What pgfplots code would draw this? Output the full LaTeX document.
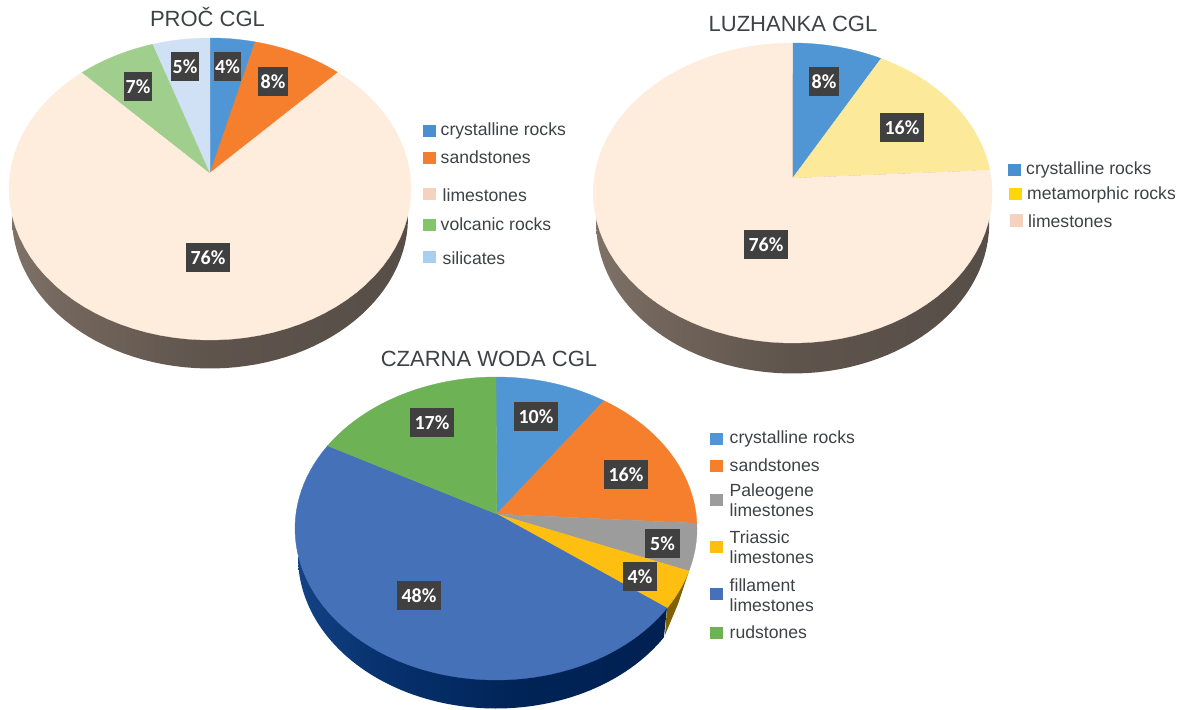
\documentclass[border=0pt]{standalone}
\usepackage{fontspec}
\usepackage{pgfplots}
\pgfplotsset{compat=1.18}
\setmainfont{Liberation Sans}
\newfontfamily\carlito{Carlito}
\definecolor{txt}{HTML}{3E4145}
\definecolor{boxc}{HTML}{404040}
\definecolor{peach}{HTML}{FEECDC}
\definecolor{cblue}{HTML}{5096D5}
\definecolor{corange}{HTML}{F57F2D}
\definecolor{lgreen}{HTML}{A0CF8D}
\definecolor{lblue}{HTML}{D0E1F6}
\definecolor{lyellow}{HTML}{FDE99A}
\definecolor{cgrey}{HTML}{9C9C9C}
\definecolor{cgold}{HTML}{FFBF10}
\definecolor{cdeep}{HTML}{4571B8}
\definecolor{cgreen}{HTML}{6DB254}
\definecolor{wgold}{HTML}{7F6005}
\definecolor{l1}{HTML}{4A8FD0}
\definecolor{l2}{HTML}{F47E30}
\definecolor{l3}{HTML}{F4D2BD}
\definecolor{l4}{HTML}{83C56A}
\definecolor{l5}{HTML}{A9CFF0}
\definecolor{l6}{HTML}{FFD60A}
\pgfdeclarehorizontalshading{wallbrown}{100bp}{rgb(0bp)=(0.68,0.63,0.58); rgb(18bp)=(0.54,0.49,0.45); rgb(32bp)=(0.45,0.40,0.36); rgb(50bp)=(0.37,0.33,0.30); rgb(100bp)=(0.31,0.28,0.26)}
\pgfdeclarehorizontalshading{wallblue}{100bp}{rgb(0bp)=(0.20,0.40,0.68); rgb(15bp)=(0.12,0.32,0.60); rgb(35bp)=(0.03,0.20,0.44); rgb(55bp)=(0.00,0.14,0.34); rgb(100bp)=(0.00,0.11,0.29)}
% \slice{cx}{cy}{rx}{ry}{apex x}{apex y}{rim angle from}{rim angle to}{colour}
\newcommand\slice[9]{\addplot[fill=#9,draw=#9,line width=0.3pt,no marks,domain=#7:#8,samples=70]
  ({#1+#3*sin(x)},{#2-#4*cos(x)}) -- (axis cs:#5,#6) -- cycle;}
% \wall{cx}{cy}{rx}{ry}{shading}
\newcommand\wall[5]{\addplot[shade,shading=#5,draw=none,no marks,domain=0:360,samples=120]
  ({#1+#3*sin(x)},{#2-#4*cos(x)}) -- cycle;}
% \lab{centre x}{centre y}{box width}{text}
\newcommand\lab[4]{\node[fill=boxc,text=white,inner sep=0pt,minimum width=#3pt,minimum height=29pt,font=\carlito\bfseries\fontsize{20}{20}\selectfont] at (axis cs:#1,#2+1.8) {#4};}
\newcommand\swatch[3]{\fill[#3] (axis cs:#1,#2-6.5) rectangle (axis cs:#1+13,#2+6);}
\newcommand\legtext[3]{\node[anchor=base west,inner sep=0pt,text=txt,font=\fontsize{17.6}{17.6}\selectfont] at (axis cs:#1,#2) {#3};}
\newcommand\ttl[3]{\node[anchor=base,inner sep=0pt,text=txt,font=\fontsize{22}{22}\selectfont] at (axis cs:#1,#2) {#3};}
\begin{document}
\begin{tikzpicture}
\path (0,0) rectangle (1179pt,710pt);
\begin{axis}[at={(0,0)},anchor=south west,width=1179pt,height=710pt,scale only axis,hide axis,
  xmin=0,xmax=1179,ymin=0,ymax=710,y dir=reverse,clip=false]
% PROC
\wall{210}{217.5}{198}{151}{wallbrown}
\slice{210}{189}{201}{151}{210}{173}{0}{13}{cblue}
\slice{210}{189}{201}{151}{210}{173}{13}{39.5}{corange}
\slice{210}{189}{201}{151}{210}{173}{39.5}{320.5}{peach}
\slice{210}{189}{201}{151}{210}{173}{320.5}{343.5}{lgreen}
\slice{210}{189}{201}{151}{210}{173}{343.5}{360}{lblue}
% LUZHANKA
\wall{792.7}{223.5}{196.5}{150}{wallbrown}
\slice{792.7}{193}{199.5}{150}{792.7}{178}{0}{26.3}{cblue}
\slice{792.7}{193}{199.5}{150}{792.7}{178}{26.3}{81.2}{lyellow}
\slice{792.7}{193}{199.5}{150}{792.7}{178}{81.2}{360}{peach}
% CZARNA WODA
\addplot[shade,shading=wallblue,draw=none,no marks,domain=122:270,samples=80]
  ({496+198*sin(x)},{557-151.5*cos(x)}) -- (axis cs:496,514) -- (axis cs:667,608) -- cycle;
\addplot[fill=wgold,draw=none,no marks] coordinates {(689,571) (678,604) (665,635) (667,608)} -- cycle;
\slice{496}{528.5}{201}{151.5}{496.7}{514}{0}{32.5}{cblue}
\slice{496}{528.5}{201}{151.5}{496.7}{514}{32.5}{88}{corange}
\slice{496}{528.5}{201}{151.5}{496.7}{514}{88}{106.3}{cgrey}
\slice{496}{528.5}{201}{151.5}{496.7}{514}{106.3}{121.7}{cgold}
\slice{496}{528.5}{201}{151.5}{496.7}{514}{121.7}{303.1}{cdeep}
\slice{496}{528.5}{201}{151.5}{496.7}{514}{303.1}{360}{cgreen}
% value labels
\lab{227.5}{64.5}{27}{4\%}
\lab{273}{79.5}{30}{8\%}
\lab{208}{255.5}{44}{76\%}
\lab{138}{84.5}{28}{7\%}
\lab{185}{64.5}{28}{5\%}
\lab{824}{79.5}{30}{8\%}
\lab{902}{125.5}{44}{16\%}
\lab{766}{242.5}{44}{76\%}
\lab{536}{415}{44}{10\%}
\lab{626}{473}{44}{16\%}
\lab{662.5}{541.5}{35}{5\%}
\lab{640}{574.5}{34}{4\%}
\lab{419}{593.5}{44}{48\%}
\lab{432}{421}{44}{17\%}
% titles
\ttl{207.5}{26}{PROČ CGL}
\ttl{793}{31}{LUZHANKA CGL}
\ttl{489}{366}{CZARNA WODA CGL}
% legends
\swatch{423}{131}{l1}\legtext{440.5}{135}{crystalline rocks}
\swatch{423}{158}{l2}\legtext{440.5}{163}{sandstones}
\swatch{423}{194}{l3}\legtext{442.5}{201}{limestones}
\swatch{423}{225}{l4}\legtext{440.5}{230}{volcanic rocks}
\swatch{423}{257}{l5}\legtext{442.5}{264}{silicates}
\swatch{1008}{170}{l1}\legtext{1026}{174}{crystalline rocks}
\swatch{1009}{194}{l6}\legtext{1027}{199}{metamorphic rocks}
\swatch{1010}{220.5}{l3}\legtext{1028}{227}{limestones}
\swatch{710}{439}{cblue}\legtext{729.5}{443}{crystalline rocks}
\swatch{710}{466}{corange}\legtext{729.5}{471}{sandstones}
\swatch{710}{500}{cgrey}\legtext{729.5}{496}{Paleogene}\legtext{729.5}{516}{limestones}
\swatch{710}{547}{cgold}\legtext{729.5}{543}{Triassic}\legtext{729.5}{563}{limestones}
\swatch{710}{594}{cdeep}\legtext{729.5}{591}{fillament}\legtext{729.5}{611}{limestones}
\swatch{710}{633}{cgreen}\legtext{729.5}{638}{rudstones}
\end{axis}
\end{tikzpicture}
\end{document}
